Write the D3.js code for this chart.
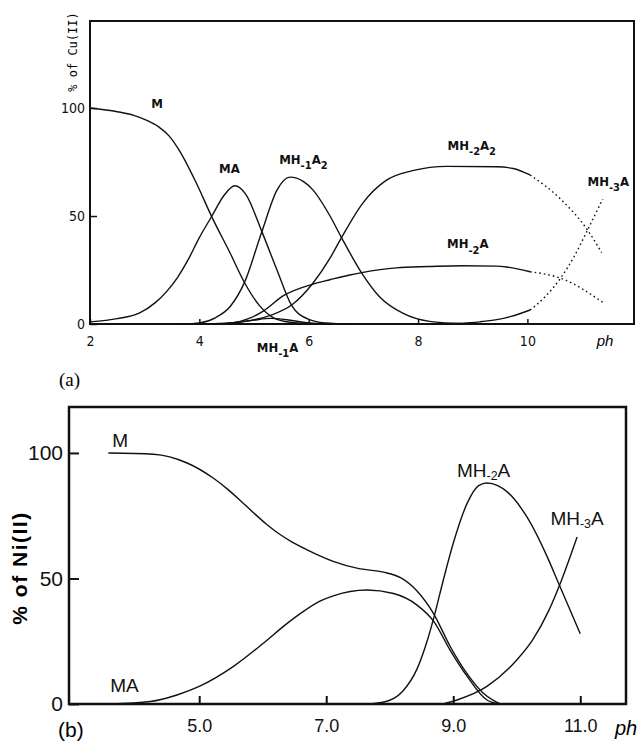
<!DOCTYPE html>
<html>
<head>
<meta charset="utf-8">
<script src="https://cdn.jsdelivr.net/npm/d3@7"></script>
<style>
  body { margin: 0; background: #fff; }
</style>
</head>
<body>
<div id="chart"></div>
<script>
// -- data: (pH, % of metal) --

// (a) Cu(II)
var cuM      = [[2,100],[2.5,98.3],[2.8,96.6],[3.05,94.2],[3.25,91.4],[3.45,87],[3.63,80.5],[3.94,65.5],[4.23,49.5],[4.56,33],[4.83,19],[5.1,8.5],[5.35,3],[5.66,0.8],[6.0,0.2],[6.5,0]];
var cuMA     = [[2,1],[2.5,2.5],[2.9,5],[3.2,10],[3.4,15],[3.6,21.5],[3.8,30],[4.0,40],[4.23,50],[4.45,59.5],[4.65,64],[4.85,60],[5.14,43],[5.42,25],[5.69,8.5],[5.97,2.5],[6.3,0.5],[6.8,0]];
var cuMH1A2  = [[3.7,0],[4.0,0.5],[4.3,3],[4.56,8],[4.83,19.5],[5.14,42.5],[5.42,62],[5.66,68],[5.9,66],[6.08,62],[6.39,50],[6.6,40],[6.97,23.6],[7.3,12.5],[7.72,5],[8.21,1.2],[8.7,0.3],[9.2,0]];
var cuMH2A2  = [[4.4,0],[4.9,1.5],[5.3,4],[5.7,9],[6.08,19],[6.39,30.5],[6.6,40],[6.99,56],[7.43,66.7],[7.9,71],[8.53,73],[9.44,72.8],[9.74,72],[10.05,69],[10.6,58],[11.1,43.5],[11.36,33]];
var cuMH2A   = [[4.3,0],[4.6,0.5],[4.9,2.5],[5.17,6],[5.53,13],[6.08,18.5],[6.39,20.5],[6.75,22.7],[6.97,23.8],[7.6,26],[8.2,26.6],[8.8,27],[9.44,26.8],[9.62,26.4],[10.05,24.2],[10.63,21],[11.38,10]];
var cuMH3A   = [[8.2,0],[8.7,0.3],[9.13,1],[9.44,2],[9.7,3.5],[10.05,6.5],[10.3,12],[10.6,21],[10.85,31],[11.1,43.5],[11.38,58]];
var cuMH1A   = [[4.2,0],[4.7,0.8],[5.0,1.8],[5.3,2.6],[5.6,2],[5.9,0.8],[6.3,0]];
var cuDotFrom = 10.05; // beyond this pH the curves are dotted

var cuXTicks = [2, 4, 6, 8, 10];
var cuYTicks = [0, 50, 100];

// (b) Ni(II)
var niM      = [[3.57,100],[4.28,99.5],[4.81,96],[5.22,90],[5.45,85.5],[5.65,81],[5.85,76.3],[6.05,71.8],[6.25,67.9],[6.45,64.7],[6.7,61.4],[6.9,59],[7.11,56.8],[7.5,54],[7.9,52.5],[8.17,50.3],[8.43,45],[8.69,36],[8.95,23],[9.22,12],[9.47,4.4],[9.74,0]];
var niMA     = [[3.6,0],[4.23,1],[4.65,3.6],[5.0,7],[5.54,15],[6.0,24],[6.38,32],[6.59,36],[6.9,41],[7.1,43],[7.64,45.4],[8.06,44],[8.43,39.4],[8.69,33],[8.95,21.5],[9.22,11],[9.53,1.6],[9.74,0]];
var niMH2A   = [[7.69,0],[8.0,1.5],[8.2,5],[8.43,14],[8.6,26],[8.69,34],[8.85,50],[9.0,64],[9.22,80],[9.4,87],[9.53,88],[9.7,87],[9.85,84.5],[10.16,74.5],[10.48,58.6],[10.66,48],[11.0,28]];
var niMH3A   = [[8.84,0],[9.06,1.6],[9.53,7],[10.0,17.5],[10.25,25.5],[10.5,37],[10.7,49],[10.95,66.5]];

var niXTicks = [5, 7, 9, 11];
var niYTicks = [0, 50, 100];

// species labels: text parts, "s" = lowered subscript
var cuLabels = [
    {at: [3.12, 100], parts: [["M"]]},
    {at: [4.36, 70],  parts: [["MA"]]},
    {at: [5.46, 74],  parts: [["MH"], ["-1", "s"], ["A"], ["2", "s"]]},
    {at: [8.54, 80.5], parts: [["MH"], ["-2", "s"], ["A"], ["2", "s"]]},
    {at: [11.1, 64],  parts: [["MH"], ["-3", "s"], ["A"]]},
    {at: [8.53, 35],  parts: [["MH"], ["-2", "s"], ["A"]]},
    {at: [5.05, -13], parts: [["MH"], ["-1", "s"], ["A"]]}
];
var niLabels = [
    {at: [3.63, 102.4], parts: [["M"]]},
    {at: [3.6, 4.8],    parts: [["MA"]]},
    {at: [9.06, 90.4],  parts: [["MH"], ["-2", "t"], ["A"]]},
    {at: [10.53, 71.3], parts: [["MH"], ["-3", "t"], ["A"]]}
];


var width = 639;
var height = 741;

var svg = d3.select("#chart").append("svg")
    .attr("width", width)
    .attr("height", height);

var narrow = "'Liberation Sans Narrow', 'DejaVu Sans Condensed', sans-serif";
var helv = "'Liberation Sans', Arial, sans-serif";


// -- panel (a) --

var xa = d3.scaleLinear().domain([2, 11.95]).range([90, 634]);
var ya = d3.scaleLinear().domain([0, 140.3]).range([324, 21]);

var lineA = d3.line()
    .x(function (d) { return xa(d[0]); })
    .y(function (d) { return ya(d[1]); })
    .curve(d3.curveMonotoneX);

frame(svg, xa, ya, 2);

[cuM, cuMA, cuMH1A2, cuMH1A].forEach(function (s) {
    curve(svg, lineA, s, null);
});
[cuMH2A2, cuMH2A, cuMH3A].forEach(function (s) {
    curve(svg, lineA, s.filter(function (d) { return d[0] <= cuDotFrom; }), null);
    curve(svg, lineA, s.filter(function (d) { return d[0] >= cuDotFrom; }), "1.6,3");
});

var axA = svg.append("g")
    .attr("transform", "translate(0," + ya(0) + ")")
    .call(d3.axisBottom(xa).tickValues(cuXTicks).tickSize(-5).tickPadding(12)
        .tickFormat(d3.format("d")));
styleAxis(axA, narrow, 14, 1.5);

var ayA = svg.append("g")
    .attr("transform", "translate(" + xa(2) + ",0)")
    .call(d3.axisLeft(ya).tickValues(cuYTicks).tickSize(-7).tickPadding(5));
styleAxis(ayA, narrow, 14, 1.5);

svg.append("text")
    .attr("transform", "translate(77,52) rotate(-90)")
    .attr("text-anchor", "middle")
    .attr("font-family", "'DejaVu Sans Mono', monospace")
    .attr("font-size", "12px")
    .text("% of Cu(II)");

svg.append("text")
    .attr("x", 605).attr("y", 346)
    .attr("text-anchor", "middle")
    .attr("font-family", helv)
    .attr("font-style", "italic")
    .attr("font-size", "15px")
    .text("ph");

svg.append("text")
    .attr("x", 59).attr("y", 386)
    .attr("font-family", "'Liberation Serif', serif")
    .attr("font-size", "19px")
    .text("(a)");

cuLabels.forEach(function (l) {
    label(svg, xa(l.at[0]), ya(l.at[1]), l.parts, narrow, 13, "bold");
});


// -- panel (b) --

var xb = d3.scaleLinear().domain([2.95, 11.72]).range([69, 626]);
var yb = d3.scaleLinear().domain([0, 118.3]).range([704, 407]);

var lineB = d3.line()
    .x(function (d) { return xb(d[0]); })
    .y(function (d) { return yb(d[1]); })
    .curve(d3.curveMonotoneX);

frame(svg, xb, yb, 2.5);

[niM, niMA, niMH2A, niMH3A].forEach(function (s) {
    curve(svg, lineB, s, null);
});

var axB = svg.append("g")
    .attr("transform", "translate(0," + yb(0) + ")")
    .call(d3.axisBottom(xb).tickValues(niXTicks).tickSize(-8).tickPadding(15)
        .tickFormat(d3.format(".1f")));
styleAxis(axB, helv, 18, 2);

var ayB = svg.append("g")
    .attr("transform", "translate(" + xb(2.95) + ",0)")
    .call(d3.axisLeft(yb).tickValues(niYTicks).tickSize(-10).tickPadding(6));
styleAxis(ayB, helv, 21, 2);

svg.append("text")
    .attr("transform", "translate(27,568) rotate(-90)")
    .attr("text-anchor", "middle")
    .attr("font-family", helv)
    .attr("font-weight", "bold")
    .attr("font-size", "21px")
    .attr("letter-spacing", "1.5px")
    .text("% of Ni(II)");

svg.append("text")
    .attr("x", 615).attr("y", 735)
    .attr("font-family", helv)
    .attr("font-style", "italic")
    .attr("font-size", "20px")
    .text("ph");

svg.append("text")
    .attr("x", 58).attr("y", 737)
    .attr("font-family", helv)
    .attr("font-size", "21px")
    .text("(b)");

niLabels.forEach(function (l) {
    label(svg, xb(l.at[0]), yb(l.at[1]), l.parts, helv, 19, "normal");
});


// -- helpers --

function frame(g, x, y, sw) {
    var x0 = x.range()[0], x1 = x.range()[1];
    var y0 = y.range()[1], y1 = y.range()[0];
    return g.append("rect")
        .attr("x", x0).attr("y", y0)
        .attr("width", x1 - x0).attr("height", y1 - y0)
        .style("fill", "none")
        .style("stroke", "#111")
        .style("stroke-width", sw);
}

function curve(g, line, data, dash) {
    return g.append("path")
        .datum(data)
        .attr("d", line)
        .style("fill", "none")
        .style("stroke", "#111")
        .style("stroke-width", 1.4)
        .style("stroke-dasharray", dash);
}

function styleAxis(ax, family, size, sw) {
    ax.select(".domain").remove();
    ax.selectAll(".tick line")
        .style("stroke", "#111")
        .style("stroke-width", sw);
    ax.selectAll(".tick text")
        .attr("fill", "#111")
        .attr("font-family", family)
        .attr("font-size", size + "px");
}

// "s" = lowered subscript, "t" = small, slightly lowered
function label(g, x, y, parts, family, size, weight) {
    var t = g.append("text")
        .attr("x", x).attr("y", y)
        .attr("font-family", family)
        .attr("font-weight", weight)
        .attr("font-size", size + "px")
        .attr("fill", "#111");
    var shift = 0;
    parts.forEach(function (p) {
        var want = p[1] == "s" ? size * 0.4 : (p[1] == "t" ? size * 0.15 : 0);
        var fs = p[1] == "s" ? size * 0.85 : (p[1] == "t" ? size * 0.65 : null);
        t.append("tspan")
            .attr("dy", want - shift)
            .attr("font-size", fs ? fs + "px" : null)
            .text(p[0]);
        shift = want;
    });
    return t;
}
</script>
</body>
</html>
